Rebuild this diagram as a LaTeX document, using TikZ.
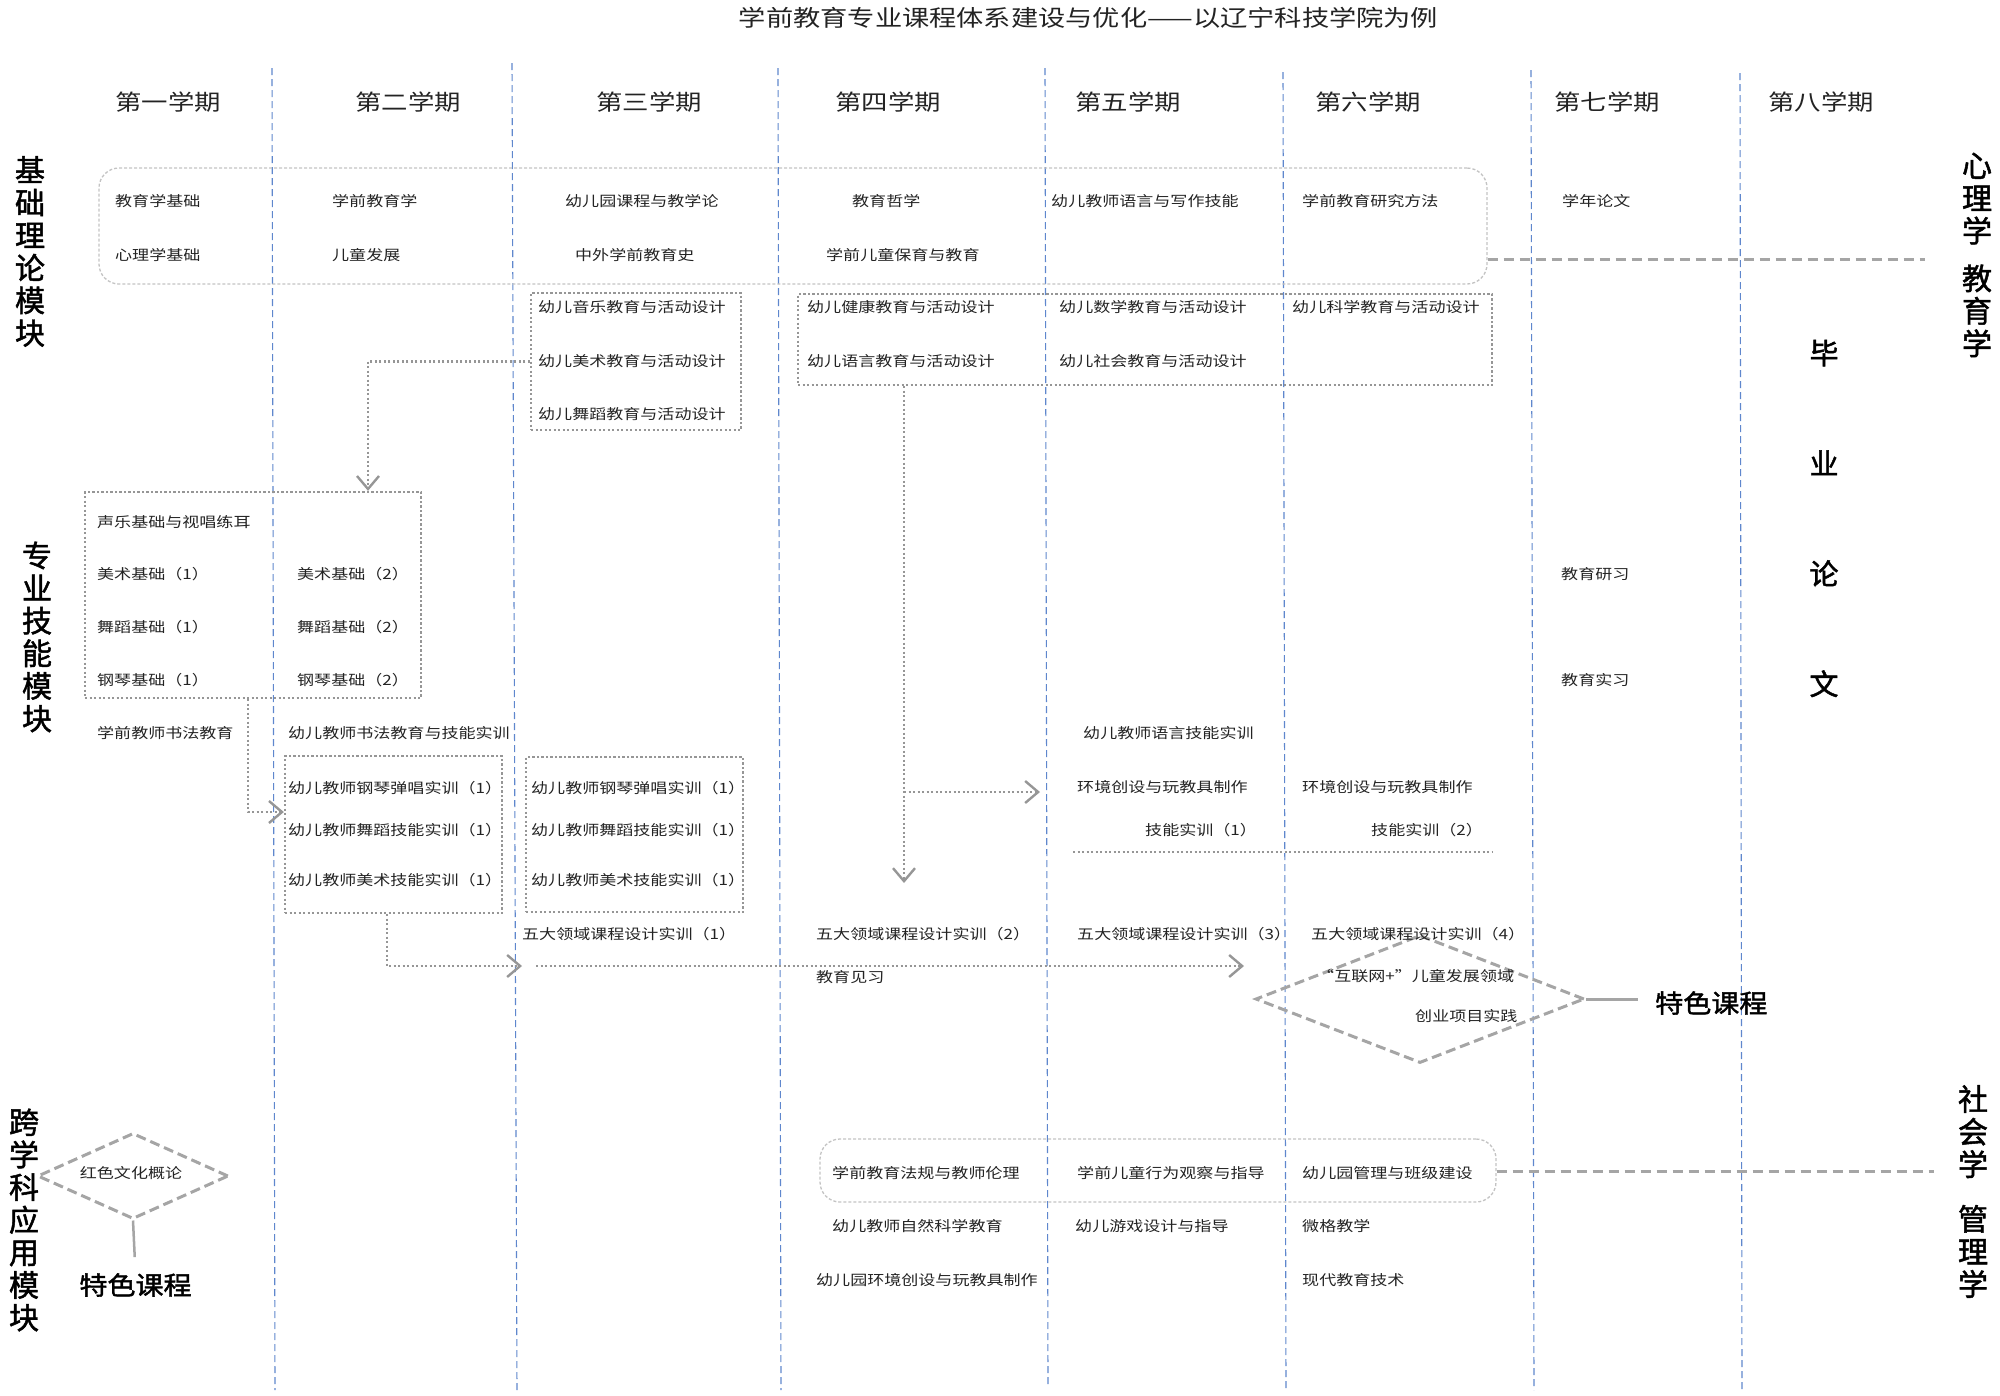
\documentclass[tikz,border=0pt]{standalone}
\usepackage{fontspec}
\usetikzlibrary{arrows.meta,shapes.geometric,calc}
\newfontfamily\cjk[FakeStretch=1.2]{Noto Sans CJK SC}
\newfontfamily\cjkh[FakeBold=1.6]{Noto Sans CJK SC}
\newfontfamily\cjkhs[FakeStretch=1.1,FakeBold=1.6]{Noto Sans CJK SC}
\definecolor{vline}{RGB}{95,135,205}
\definecolor{boxg}{RGB}{150,150,150}
\definecolor{roundg}{RGB}{195,195,195}
\definecolor{thickg}{RGB}{165,165,165}
\definecolor{txt}{RGB}{35,35,35}
\begin{document}
\begin{tikzpicture}[x=1pt,y=-1pt,
  lbl/.style={anchor=west,inner sep=0pt,font=\fontsize{14.2}{17}\selectfont\cjk,text=txt},
  sem/.style={inner sep=0pt,font=\fontsize{22}{26}\selectfont\cjk,text=txt},
  modlbl/.style={inner sep=0pt,align=center,font=\fontsize{30}{32.6}\selectfont\cjkh,text=black},
  bigtxt/.style={inner sep=0pt,font=\fontsize{25.5}{30}\selectfont\cjkhs,text=black},
  gradtxt/.style={inner sep=0pt,align=center,font=\fontsize{29}{110.3}\selectfont\cjkh,text=black},
  vsep/.style={draw=vline,line width=1.1pt,dash pattern=on 7pt off 4pt},
  dotbox/.style={draw=boxg,line width=2.3pt,dash pattern=on 2.2pt off 2.3pt,rectangle,inner sep=0pt},
  rbox/.style={draw=roundg,line width=1.3pt,dash pattern=on 3pt off 2pt,rectangle,rounded corners=20pt,inner sep=0pt},
  dotline/.style={draw=boxg,line width=2.3pt,dash pattern=on 2.2pt off 2.3pt},
  arr/.style={dotline,-{Straight Barb[length=13pt,width=22pt,line width=2.4pt]}},
  thickdash/.style={draw=thickg,line width=3pt,dash pattern=on 10pt off 6pt},
  ddiam/.style={diamond,draw=thickg,line width=3pt,dash pattern=on 10pt off 5pt,inner sep=0pt},
  solidg/.style={draw=thickg,line width=3pt},
]
\useasboundingbox (0,0) rectangle (2000,1395);

% title
\node[inner sep=0pt,font=\fontsize{22.7}{27}\selectfont\cjk,text=txt] (title) at (1088.5,18) {学前教育专业课程体系建设与优化——以辽宁科技学院为例};

% semester separators
\draw[vsep] (272,68) -- (275,1390);
\draw[vsep] (512,63) -- (517,1393);
\draw[vsep] (778,68) -- (781,1390);
\draw[vsep] (1045,68) -- (1048,1387);
\draw[vsep] (1283,72) -- (1286,1391);
\draw[vsep] (1531,70) -- (1534,1390);
\draw[vsep] (1740,73) -- (1742,1392);

% semester headers
\node[sem] (s1) at (168,102) {第一学期};
\node[sem] (s2) at (408,102) {第二学期};
\node[sem] (s3) at (649,102) {第三学期};
\node[sem] (s4) at (888,102) {第四学期};
\node[sem] (s5) at (1128,102) {第五学期};
\node[sem] (s6) at (1368,102) {第六学期};
\node[sem] (s7) at (1607,102) {第七学期};
\node[sem] (s8) at (1821,102) {第八学期};

% module labels
\node[modlbl] (m1) at (30,251.5) {基\\础\\理\\论\\模\\块};
\node[modlbl] (m2) at (37,637) {专\\业\\技\\能\\模\\块};
\node[modlbl] (m3) at (24,1220) {跨\\学\\科\\应\\用\\模\\块};
\node[modlbl] (rt1) at (1977,255) {心\\理\\学\\[15pt]教\\育\\学};
\node[modlbl] (rt2) at (1973,1191.5) {社\\会\\学\\[22pt]管\\理\\学};
\node[gradtxt] (grad) at (1824,518.5) {毕\\业\\论\\文};

% boxes
\node[rbox,minimum width=1388pt,minimum height=116pt] (bigR) at (793,226) {};
\node[dotbox,minimum width=210pt,minimum height=137pt] (b2) at (636,361.5) {};
\node[dotbox,minimum width=694pt,minimum height=91pt] (b3) at (1145,339.5) {};
\node[dotbox,minimum width=336pt,minimum height=206pt] (b4) at (253,595) {};
\node[dotbox,minimum width=217pt,minimum height=157pt] (b5) at (393.5,834.5) {};
\node[dotbox,minimum width=217pt,minimum height=155pt] (b6) at (634.5,834.5) {};
\node[rbox,minimum width=676pt,minimum height=63pt] (botR) at (1158,1170.5) {};
\node[ddiam,minimum width=329pt,minimum height=128pt] (dR) at (1420,999) {};
\node[ddiam,minimum width=191pt,minimum height=86pt] (dL) at (133,1176) {};

% basic theory texts
\node[lbl] (a1) at (115,201) {教育学基础};
\node[lbl] (a2) at (332,201) {学前教育学};
\node[lbl] (a3) at (565,201) {幼儿园课程与教学论};
\node[lbl] (a4) at (852,201) {教育哲学};
\node[lbl] (a5) at (1051,201) {幼儿教师语言与写作技能};
\node[lbl] (a6) at (1302,201) {学前教育研究方法};
\node[lbl] (a7) at (1562,201) {学年论文};
\node[lbl] (a8) at (115,255) {心理学基础};
\node[lbl] (a9) at (332,255) {儿童发展};
\node[lbl] (a10) at (575,255) {中外学前教育史};
\node[lbl] (a11) at (826,255) {学前儿童保育与教育};

% activity design
\node[lbl] (c1) at (538,307) {幼儿音乐教育与活动设计};
\node[lbl] (c2) at (538,361) {幼儿美术教育与活动设计};
\node[lbl] (c3) at (538,414) {幼儿舞蹈教育与活动设计};
\node[lbl] (c4) at (807,307) {幼儿健康教育与活动设计};
\node[lbl] (c5) at (807,361) {幼儿语言教育与活动设计};
\node[lbl] (c6) at (1059,307) {幼儿数学教育与活动设计};
\node[lbl] (c7) at (1059,361) {幼儿社会教育与活动设计};
\node[lbl] (c8) at (1292,307) {幼儿科学教育与活动设计};

% skills
\node[lbl] (d1) at (97,522) {声乐基础与视唱练耳};
\node[lbl] (d2) at (97,574) {美术基础（1）};
\node[lbl] (d3) at (97,627) {舞蹈基础（1）};
\node[lbl] (d4) at (97,680) {钢琴基础（1）};
\node[lbl] (d5) at (297,574) {美术基础（2）};
\node[lbl] (d6) at (297,627) {舞蹈基础（2）};
\node[lbl] (d7) at (297,680) {钢琴基础（2）};
\node[lbl] (d8) at (97,733) {学前教师书法教育};
\node[lbl] (d9) at (288,733) {幼儿教师书法教育与技能实训};

\node[lbl] (e1) at (288,788) {幼儿教师钢琴弹唱实训（1）};
\node[lbl] (e2) at (288,830) {幼儿教师舞蹈技能实训（1）};
\node[lbl] (e3) at (288,880) {幼儿教师美术技能实训（1）};
\node[lbl] (e4) at (531,788) {幼儿教师钢琴弹唱实训（1）};
\node[lbl] (e5) at (531,830) {幼儿教师舞蹈技能实训（1）};
\node[lbl] (e6) at (531,880) {幼儿教师美术技能实训（1）};

\node[lbl] (f1) at (1083,733) {幼儿教师语言技能实训};
\node[lbl] (f2) at (1077,787) {环境创设与玩教具制作};
\node[lbl] (f3) at (1145,830) {技能实训（1）};
\node[lbl] (f4) at (1302,787) {环境创设与玩教具制作};
\node[lbl] (f5) at (1371,830) {技能实训（2）};

\node[lbl] (g1) at (522,934) {五大领域课程设计实训（1）};
\node[lbl] (g2) at (816,934) {五大领域课程设计实训（2）};
\node[lbl] (g3) at (1077,934) {五大领域课程设计实训（3）};
\node[lbl] (g4) at (1311,934) {五大领域课程设计实训（4）};
\node[lbl] (g5) at (816,977) {教育见习};

\node[lbl] (h1) at (1561,574) {教育研习};
\node[lbl] (h2) at (1561,680) {教育实习};

\node[lbl] (i1) at (1317,976) {“互联网+”儿童发展领域};
\node[lbl] (i2) at (1415,1016) {创业项目实践};
\node[bigtxt,anchor=west] (tsR) at (1655,1003) {特色课程};

\node[lbl,anchor=center] (red) at (131,1173) {红色文化概论};
\node[bigtxt] (tsL) at (135.5,1285) {特色课程};

% interdisciplinary
\node[lbl] (j1) at (832,1173) {学前教育法规与教师伦理};
\node[lbl] (j2) at (1077,1173) {学前儿童行为观察与指导};
\node[lbl] (j3) at (1302,1173) {幼儿园管理与班级建设};
\node[lbl] (j4) at (832,1226) {幼儿教师自然科学教育};
\node[lbl] (j5) at (1075,1226) {幼儿游戏设计与指导};
\node[lbl] (j6) at (1302,1226) {微格教学};
\node[lbl] (j7) at (816,1280) {幼儿园环境创设与玩教具制作};
\node[lbl] (j8) at (1302,1280) {现代教育技术};

% coordinates
\coordinate (r1) at (1925,259);
\coordinate (r2) at (1934,1171);
\coordinate (k1) at (368,361);
\coordinate (k2) at (248,812);
\coordinate (k3) at (387,966);
\coordinate (k4) at (522,966);
\coordinate (k5) at (536,966);
\coordinate (k6) at (1244,966);
\coordinate (k7) at (904,883);
\coordinate (k8) at (1040,792);
\coordinate (sp1) at (1073,852);
\coordinate (sp2) at (1492,852);

% connectors
\draw[thickdash] (bigR.east |- r1) -- (r1);
\draw[thickdash] (botR.east |- r2) -- (r2);
\draw[arr] (b2.west) -| (k1 |- b4.north);
\draw[arr] (k2 |- b4.south) |- (b5.west |- k2);
\draw[arr] (k3 |- b5.south) |- (k4);
\draw[arr] (k5) -- (k6);
\draw[arr] (k7 |- b3.south) -- (k7);
\draw[arr] (k7 |- k8) -- (k8);
\draw[dotline] (sp1) -- (sp2);
\draw[solidg,shorten >=17pt] (dR.east) -- (dR.east -| tsR.west);
\draw[draw=thickg,line width=2.5pt,shorten >=16pt] (dL.south) -- (tsL.north);
\end{tikzpicture}
\end{document}
